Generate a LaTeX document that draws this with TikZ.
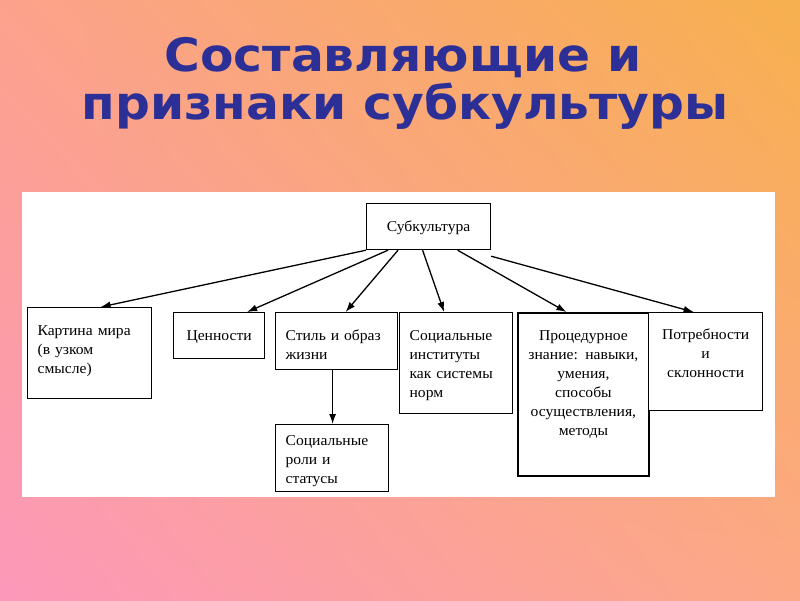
\documentclass[tikz,border=0pt]{standalone}
\usepackage{fontspec}
\setmainfont[FakeStretch=1.04]{Liberation Serif}
\newfontfamily\titlefont[FakeStretch=1.06]{DejaVu Sans}
\usetikzlibrary{arrows.meta,shadings}

\definecolor{bgtl}{RGB}{252,162,140}
\definecolor{bgtr}{RGB}{247,176,78}
\definecolor{bgbl}{RGB}{252,152,186}
\definecolor{bgbr}{RGB}{252,168,134}
\definecolor{titleblue}{RGB}{44,48,150}

\begin{document}
\begin{tikzpicture}[
  x=1pt, y=-1pt,
  >={Latex[length=10pt,width=7pt]},
  title/.style={font=\titlefont\bfseries\fontsize{46}{50}\selectfont, text=titleblue, anchor=base},
  box/.style={draw, line width=1.2pt, fill=white, anchor=north west, inner xsep=10pt,
    inner ysep=0pt, text height=28pt, font=\fontsize{15}{19}\selectfont}, % text sits at the top
  link/.style={->, line width=1.3pt}
]

  % background and white panel
  \useasboundingbox (0,0) rectangle (800,600);
  \shade[upper left=bgtl, upper right=bgtr, lower left=bgbl, lower right=bgbr] (0,0) rectangle (800,600);
  \fill[white] (22,192) rectangle (775,497);

  \node[title] (title1) at (403,71) {Составляющие и};
  \node[title] (title2) at (405,119) {признаки субкультуры};

  \node[box, align=center, text width=104pt, text depth=18pt] (sub) at (366,203) {Субкультура};

  \node[box, align=left, text width=104pt, text depth=63pt] (kart) at (27,307)
    {Картина мира\\(в узком\\смысле)};
  \node[box, align=center, text width=71pt, text depth=18pt] (cen) at (173,312) {Ценности};
  \node[box, align=left, text width=102pt, text depth=29pt] (stil) at (275,312)
    {Стиль и образ\\жизни};
  \node[box, align=left, text width=93pt, text depth=73pt] (inst) at (399,312)
    {Социальные\\институты\\как системы\\норм};
  \node[box, line width=1.8pt, inner xsep=5pt, align=center, text width=121pt, text depth=135pt] (proc) at (517,312)
    {Процедурное\\знание: навыки,\\умения,\\способы\\осуществления,\\методы};
  \node[box, inner xsep=6pt, align=center, text width=102pt, text height=27pt, text depth=71pt] (potr) at (648,312)
    {Потребности\\и\\склонности};
  \node[box, align=left, text width=93pt, text height=21pt, text depth=46pt] (roli) at (275,424)
    {Социальные\\роли и\\статусы};

  \draw[link] (sub.south west) -- ([xshift=11pt]kart.north);
  \draw[link] ([xshift=22pt]sub.south west) -- ([xshift=28pt]cen.north);
  \draw[link] ([xshift=32pt]sub.south west) -- ([xshift=9pt]stil.north);
  \draw[link] ([xshift=-6pt]sub.south) -- ([xshift=-12pt]inst.north);
  \draw[link] ([xshift=29pt]sub.south) -- ([xshift=-17pt]proc.north);
  \draw[link] ([yshift=-6pt]sub.south east) -- ([xshift=-12pt]potr.north);
  \draw[link] ([xshift=-4pt]stil.south) -- ([xshift=-4pt]stil.south |- roli.north);

\end{tikzpicture}
\end{document}
